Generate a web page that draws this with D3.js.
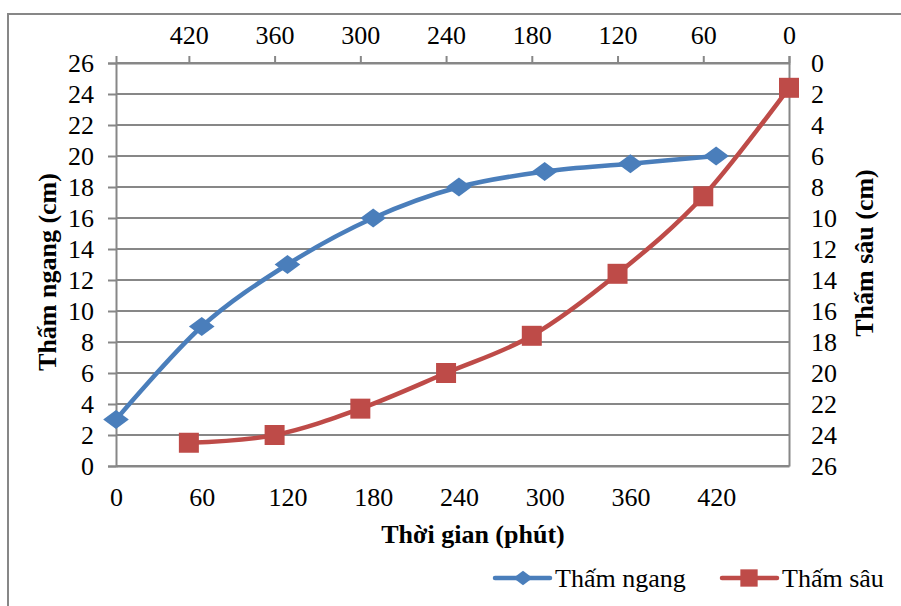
<!DOCTYPE html>
<html>
<head>
<meta charset="utf-8">
<script src="https://cdn.jsdelivr.net/npm/d3@7"></script>
<style>
  body { margin: 0; background: #fff; }
  text { font-family: "Liberation Serif", "Times New Roman", serif; fill: #000; }
</style>
</head>
<body>
<div id="container"></div>
<script>
// blue series: bottom axis (time) vs left axis
let timeNgang = [0, 60, 120, 180, 240, 300, 360, 420];
let thamNgang = [3, 9, 13, 16, 18, 19, 19.5, 20];
// red series: top axis (time, reversed) vs right axis (reversed)
let timeSau = [0, 60, 120, 180, 240, 300, 360, 420];
let thamSau = [1.6, 8.6, 13.6, 17.6, 20, 22.3, 24, 24.5];
let xTicks = [0, 60, 120, 180, 240, 300, 360, 420];
let yTicks = d3.range(0, 27, 2);
let seriesNames = ['Thấm ngang', 'Thấm sâu'];
let colors = ['#4A7EBB', '#BE4B48'];

const width = 901, height = 606;
const plotLeft = 116, plotRight = 789, plotTop = 63, plotBottom = 466;
const gridColor = '#878787';

const svg = d3.select('#container').append('svg').attr('width', width).attr('height', height);

// outer chart border (cut off at right/bottom)
svg.append('rect')
    .attr('x', 8).attr('y', 14).attr('width', 1000).attr('height', 1000)
    .attr('fill', 'none').attr('stroke', gridColor).attr('stroke-width', 2);

const xBottom = d3.scaleLinear().domain([0, 471]).range([plotLeft, plotRight]);
const xTop = d3.scaleLinear().domain([471, 0]).range([plotLeft, plotRight]);
const yLeft = d3.scaleLinear().domain([0, 26]).range([plotBottom, plotTop]);
const yRight = d3.scaleLinear().domain([0, 26]).range([plotTop, plotBottom]);

// horizontal gridlines
svg.append('g').selectAll('line')
    .data(yTicks)
    .enter()
    .append('line')
    .attr('x1', plotLeft).attr('x2', plotRight)
    .attr('y1', d => yLeft(d)).attr('y2', d => yLeft(d))
    .attr('stroke', gridColor).attr('stroke-width', 2);

// left axis
svg.append('g')
    .attr('transform', `translate(${plotLeft},0)`)
    .call(d3.axisLeft(yLeft).tickValues(yTicks).tickSize(8).tickPadding(14))
    .call(g => g.selectAll('line, path').attr('stroke', gridColor).attr('stroke-width', 2))
    .call(g => g.selectAll('text').style('font-size', '26px').attr('fill', '#000'));

// right axis (no tick marks)
svg.append('g')
    .attr('transform', `translate(${plotRight},0)`)
    .call(d3.axisRight(yRight).tickValues(yTicks).tickSize(0).tickPadding(22))
    .call(g => g.selectAll('line, path').attr('stroke', gridColor).attr('stroke-width', 2))
    .call(g => g.selectAll('text').style('font-size', '26px').attr('fill', '#000'));

// bottom axis (labels only)
svg.append('g')
    .attr('transform', `translate(0,${plotBottom})`)
    .call(d3.axisBottom(xBottom).tickValues(xTicks).tickSize(0).tickPadding(22))
    .call(g => g.selectAll('line, path').attr('stroke', gridColor).attr('stroke-width', 2))
    .call(g => g.selectAll('text').style('font-size', '26px').attr('fill', '#000'));

// top axis (reversed)
svg.append('g')
    .attr('transform', `translate(0,${plotTop})`)
    .call(d3.axisTop(xTop).tickValues(xTicks).tickSize(7).tickPadding(12))
    .call(g => g.selectAll('line, path').attr('stroke', gridColor).attr('stroke-width', 2))
    .call(g => g.selectAll('text').style('font-size', '26px').attr('fill', '#000'));

// axis titles
svg.append('text')
    .attr('x', 473).attr('y', 543)
    .attr('text-anchor', 'middle')
    .style('font-size', '26px').style('font-weight', 'bold')
    .text('Thời gian (phút)');

svg.append('text')
    .attr('transform', 'translate(56,272) rotate(-90)')
    .attr('text-anchor', 'middle')
    .style('font-size', '26px').style('font-weight', 'bold')
    .text('Thấm ngang (cm)');

svg.append('text')
    .attr('transform', 'translate(873,253) rotate(-90)')
    .attr('text-anchor', 'middle')
    .style('font-size', '26px').style('font-weight', 'bold')
    .text('Thấm sâu (cm)');

const curve = d3.curveCatmullRom.alpha(0);
const diamond = d3.symbol().type(d3.symbolDiamond2).size(230);
const square = d3.symbol().type(d3.symbolSquare).size(400);

// blue line
const lineNgang = d3.line().curve(curve)
    .x((d, i) => xBottom(timeNgang[i]))
    .y(d => yLeft(d));
svg.append('path')
    .attr('d', lineNgang(thamNgang))
    .attr('fill', 'none').attr('stroke', colors[0]).attr('stroke-width', 4.5);

// red line
const lineSau = d3.line().curve(curve)
    .x((d, i) => xTop(timeSau[i]))
    .y(d => yRight(d));
svg.append('path')
    .attr('d', lineSau(thamSau))
    .attr('fill', 'none').attr('stroke', colors[1]).attr('stroke-width', 4.5);

svg.append('g').selectAll('path')
    .data(thamNgang)
    .enter()
    .append('path')
    .attr('d', diamond)
    .attr('transform', (d, i) => `translate(${xBottom(timeNgang[i])},${yLeft(d)}) scale(1.35,1)`)
    .attr('fill', colors[0]);

svg.append('g').selectAll('path')
    .data(thamSau)
    .enter()
    .append('path')
    .attr('d', square)
    .attr('transform', (d, i) => `translate(${xTop(timeSau[i])},${yRight(d)})`)
    .attr('fill', colors[1]);

// legend
const legendX = [495, 722];
const legend = svg.selectAll('.legend')
    .data(seriesNames)
    .enter()
    .append('g')
    .attr('class', 'legend')
    .attr('transform', (d, i) => `translate(${legendX[i]}, 578)`);

legend.append('line')
    .attr('x1', 0).attr('x2', 55)
    .attr('stroke', (d, i) => colors[i]).attr('stroke-width', 4.5)
    .attr('stroke-linecap', 'round');

legend.append('path')
    .attr('d', (d, i) => i === 0 ? d3.symbol().type(d3.symbolDiamond2).size(130)() : d3.symbol().type(d3.symbolSquare).size(300)())
    .attr('transform', (d, i) => i === 0 ? 'translate(28,0) scale(1.35,1)' : 'translate(27,0)')
    .attr('fill', (d, i) => colors[i]);

legend.append('text')
    .attr('x', 60).attr('y', 9)
    .style('font-size', '26px')
    .text(d => d);
</script>
</body>
</html>
